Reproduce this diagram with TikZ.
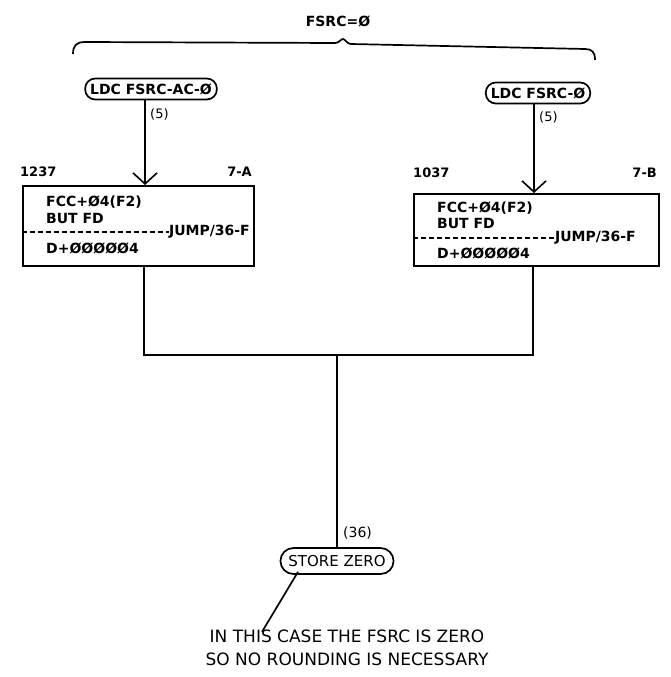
\documentclass[tikz,border=0pt]{standalone}
\usepackage{fontspec}
\setmainfont{DejaVu Sans}
\usetikzlibrary{arrows.meta}
\begin{document}
\begin{tikzpicture}[x=1pt,y=-1pt,
  ln/.style={line width=1.7pt},
  arr/.style={ln,-{Straight Barb[length=11pt,width=24pt,line width=1.6pt]}},
  term/.style={draw,ln,rounded corners=10pt,minimum height=21pt,inner xsep=5pt,inner ysep=2pt,font=\fontsize{14}{16}\selectfont\bfseries},
  termb/.style={draw,ln,rounded corners=13pt,minimum height=26pt,inner xsep=8pt,font=\fontsize{15}{17}\selectfont},
  boxn/.style={draw,ln,anchor=north west,inner sep=0pt},
  btxt/.style={inner sep=0pt,font=\fontsize{14}{16}\selectfont\bfseries},
  lbl/.style={inner sep=0pt,font=\fontsize{13}{15}\selectfont\bfseries},
  note/.style={inner sep=0pt,align=center,font=\fontsize{17}{23}\selectfont}]
\useasboundingbox (0,0) rectangle (670,677);

% heading and brace
\node[inner sep=0pt,font=\fontsize{14}{16}\selectfont\bfseries] (head) at (338,21) {FSRC=Ø};
\draw[ln] (73,54) .. controls (73,46) and (76,42) .. (85,42) -- (335,43)
  .. controls (339,43) and (341,39) .. (343,39)
  .. controls (345,39) and (347,44) .. (351,44) -- (585,49)
  .. controls (592,49) and (595,52) .. (595,60);

% terminals
\node[term] (tA) at (151,89) {LDC FSRC-AC-Ø};
\node[term] (tB) at (538,93) {LDC FSRC-Ø};

% boxes
\node[boxn,minimum width=231pt,minimum height=80pt] (bA) at (22,185) {};
\node[boxn,minimum width=245pt,minimum height=72pt] (bB) at (413,193) {};

% box labels
\node[lbl,anchor=west] (nA) at (20,172) {1237};
\node[lbl,anchor=east] (pA) at (252,172) {7-A};
\node[lbl,anchor=west] (nB) at (413,173) {1037};
\node[lbl,anchor=east] (pB) at (657,173) {7-B};

% box contents
\node[btxt,anchor=west] (fA) at (46,202) {FCC+Ø4(F2)};
\node[btxt,anchor=west] (uA) at (46,218) {BUT FD};
\node[btxt,anchor=east] (jA) at (250,232) {JUMP/36-F};
\node[btxt,anchor=west] (dA) at (46,248) {D+ØØØØØ4};
\draw[ln,dashed,dash pattern=on 5pt off 3pt] (bA.west |- jA.west) -- (jA.west);

\node[btxt,anchor=west] (fB) at (437,208) {FCC+Ø4(F2)};
\node[btxt,anchor=west] (uB) at (437,223) {BUT FD};
\node[btxt,anchor=east] (jB) at (636,238) {JUMP/36-F};
\node[btxt,anchor=west] (dB) at (437,253) {D+ØØØØØ4};
\draw[ln,dashed,dash pattern=on 5pt off 3pt] (bB.west |- jB.west) -- (jB.west);

% arrows from terminals
\draw[arr] ([xshift=-6pt]tA.south) -- ([xshift=-6pt]tA.south |- bA.north);
\draw[arr] ([xshift=-4pt]tB.south) -- ([xshift=-4pt]tB.south |- bB.north);
\node[lbl,anchor=west,font=\fontsize{13}{15}\selectfont] (fiveA) at (150,114) {(5)};
\node[lbl,anchor=west,font=\fontsize{13}{15}\selectfont] (fiveB) at (539,117) {(5)};

% merge
\coordinate (j) at (337,355);
\node[termb] (sz) at (337,561) {STORE ZERO};
\draw[ln] ([xshift=5.5pt]bA.south) |- (j) -| ([xshift=-3.5pt]bB.south);
\draw[ln] (j) -- (j |- sz.north);
\node[lbl,anchor=west,font=\fontsize{14}{16}\selectfont] (tsix) at (343,533) {(36)};

% note
\node[note] (nt) at (347,648) {IN THIS CASE THE FSRC IS ZERO\\SO NO ROUNDING IS NECESSARY};
\draw[ln] ([xshift=-39pt,yshift=3pt]sz.south) -- ([xshift=-85pt,yshift=-2pt]nt.north);
\end{tikzpicture}
\end{document}
